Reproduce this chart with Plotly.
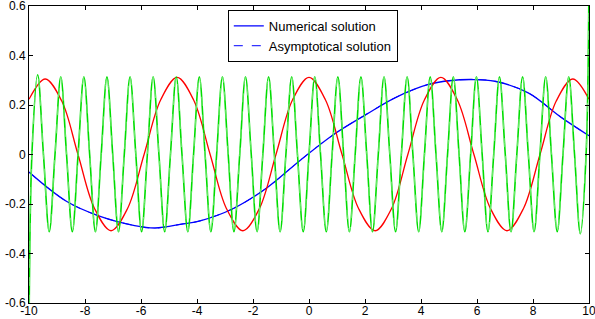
import plotly.graph_objects as go

# ---- data ----
# Green (fast oscillation): peaks, troughs, zero crossings and boundary spikes
green_peak_x = [-9.690, -8.865, -8.040, -7.216, -6.391, -5.566, -4.742, -3.917, -3.092, -2.268, -1.443, -0.618,
                0.206, 1.031, 1.855, 2.680, 3.505, 4.329, 5.154, 5.979, 6.803, 7.628, 8.453, 9.277]
green_peak_y = [0.322, 0.314, 0.314, 0.314, 0.314, 0.314, 0.314, 0.314, 0.314, 0.314, 0.314, 0.314,
                0.314, 0.314, 0.314, 0.314, 0.314, 0.314, 0.314, 0.314, 0.314, 0.314, 0.314, 0.314]
green_trough_x = [-9.277, -8.453, -7.628, -6.803, -5.979, -5.154, -4.329, -3.505, -2.680, -1.855, -1.031, -0.206,
                  0.618, 1.443, 2.268, 3.092, 3.917, 4.742, 5.566, 6.391, 7.216, 8.040, 8.865, 9.690]
green_trough_y = [-0.312, -0.312, -0.312, -0.312, -0.312, -0.312, -0.312, -0.312, -0.312, -0.312, -0.312, -0.312,
                  -0.312, -0.312, -0.312, -0.312, -0.312, -0.312, -0.312, -0.312, -0.312, -0.312, -0.312, -0.320]
green_zero_x = [-9.896, -9.484, -9.071, -8.659, -8.247, -7.834, -7.422, -7.010, -6.597, -6.185, -5.773, -5.360,
                -4.948, -4.536, -4.123, -3.711, -3.299, -2.886, -2.474, -2.062, -1.649, -1.237, -0.825, -0.412,
                0.000, 0.412, 0.825, 1.237, 1.649, 2.062, 2.474, 2.886, 3.299, 3.711, 4.123, 4.536, 4.948,
                5.360, 5.773, 6.185, 6.597, 7.010, 7.422, 7.834, 8.247, 8.659, 9.071, 9.484, 9.896]
green_end_x = [-10.0, 10.0]
green_end_y = [-0.75, 0.75]

# Red (medium oscillation)
red_x = [-10.0, -9.42, -8.83, -8.25, -7.66, -7.07, -6.48, -5.89, -5.30, -4.71, -4.12, -3.53, -2.95, -2.36,
         -1.77, -1.18, -0.59, 0.0, 0.59, 1.18, 1.77, 2.36, 2.95, 3.53, 4.12, 4.71, 5.30, 5.89, 6.48,
         7.07, 7.66, 8.25, 8.83, 9.42, 10.0]
red_y = [0.223, 0.305, 0.216, 0.0, -0.218, -0.308, -0.218, 0.0, 0.220, 0.312, 0.220, 0.0, -0.218, -0.308,
         -0.218, 0.0, 0.220, 0.312, 0.220, 0.0, -0.218, -0.308, -0.218, 0.0, 0.220, 0.312, 0.220, 0.0,
         -0.218, -0.308, -0.218, 0.0, 0.216, 0.305, 0.223]

# Blue (slow wave): numerical and asymptotical solutions
blue_x = [-10.0, -8.65, -7.46, -6.27, -5.5, -4.49, -3.89, -2.70, -1.51, -0.32, 0.87, 2.06, 3.07, 4.26,
          5.0, 5.81, 6.64, 7.83, 9.02, 10.0]
blue_y = [-0.071, -0.19, -0.25, -0.286, -0.297, -0.28, -0.268, -0.218, -0.135, -0.024, 0.08, 0.163, 0.229,
          0.283, 0.298, 0.303, 0.296, 0.249, 0.149, 0.076]

x_ticks = [-10, -8, -6, -4, -2, 0, 2, 4, 6, 8, 10]
x_tick_text = ["-10", "-8", "-6", "-4", "-2", "0", "2", "4", "6", "8", "10"]
y_ticks = [-0.6, -0.4, -0.2, 0, 0.2, 0.4, 0.6]
y_tick_text = ["-0.6", "-0.4", "-0.2", "0", "0.2", "0.4", "0.6"]

# ---- assemble green series ----
g_pts = sorted(
    list(zip(green_peak_x, green_peak_y))
    + list(zip(green_trough_x, green_trough_y))
    + [(x, 0.0) for x in green_zero_x]
    + list(zip(green_end_x, green_end_y))
)
green_x = [p[0] for p in g_pts]
green_y = [p[1] for p in g_pts]

fig = go.Figure()

fig.add_trace(go.Scatter(x=blue_x, y=blue_y, mode="lines", name="Numerical solution",
                         line=dict(color="#0000ff", width=1.3, shape="spline")))
fig.add_trace(go.Scatter(x=blue_x, y=blue_y, mode="lines", name="Asymptotical solution",
                         line=dict(color="#0000ff", width=1, dash="dash", shape="spline")))
fig.add_trace(go.Scatter(x=red_x, y=red_y, mode="lines", showlegend=False,
                         line=dict(color="#ff0000", width=1.3, shape="spline")))
fig.add_trace(go.Scatter(x=green_x, y=green_y, mode="lines", showlegend=False,
                         line=dict(color="#00dd00", width=1.6, shape="spline")))
fig.add_trace(go.Scatter(x=green_x, y=green_y, mode="lines", showlegend=False,
                         line=dict(color="#88ee88", width=0.8, dash="dash", shape="spline")))

fig.update_layout(
    width=595, height=319,
    margin=dict(l=29, r=6, t=6, b=16, autoexpand=False),
    paper_bgcolor="white", plot_bgcolor="white",
    font=dict(family="Liberation Sans, Arial, sans-serif", size=12, color="black"),
    showlegend=True,
    legend=dict(x=0.355, y=0.987, xanchor="left", yanchor="top",
                bgcolor="white", bordercolor="black", borderwidth=1,
                font=dict(size=13), tracegroupgap=0, itemwidth=30),
)
fig.update_xaxes(range=[-10, 10], tickvals=x_ticks, ticktext=x_tick_text,
                 showline=True, linecolor="black", linewidth=1, mirror="allticks",
                 ticks="inside", ticklen=4, tickcolor="black", showgrid=False, zeroline=False,
                 ticklabeloverflow="allow", automargin=False, ticklabelstandoff=-3)
fig.update_yaxes(range=[-0.6, 0.6], tickvals=y_ticks, ticktext=y_tick_text,
                 showline=True, linecolor="black", linewidth=1, mirror="allticks",
                 ticks="inside", ticklen=4, tickcolor="black", showgrid=False, zeroline=False,
                 ticklabeloverflow="allow", automargin=False)

fig.write_html("out.html", config={"displayModeBar": False},
               post_script="document.body.style.margin='0px';document.body.style.overflow='hidden';")
